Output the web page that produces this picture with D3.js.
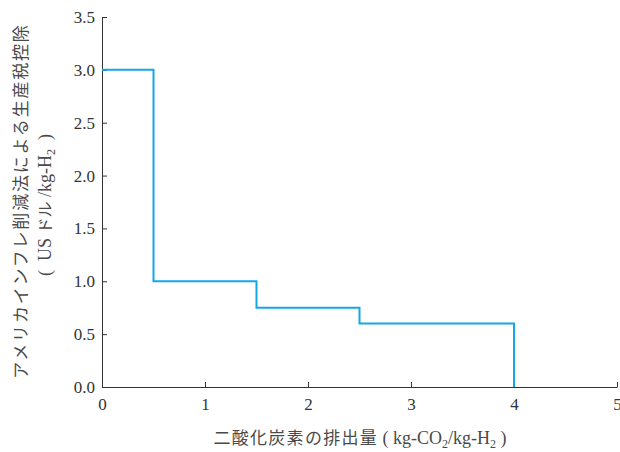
<!DOCTYPE html>
<html>
<head>
<meta charset="utf-8">
<script src="https://cdn.jsdelivr.net/npm/d3@7"></script>
<style>
  body { margin: 0; background: #fff; }
  svg text { fill: #333; }
</style>
</head>
<body>
<svg width="620" height="452"></svg>
<script>
// emission thresholds (kg-CO2/kg-H2) and tax credit (USD/kg-H2)
var emission = [0, 0.5, 1.5, 2.5, 4];
var credit = [3.0, 1.0, 0.75, 0.6, 0];
var xTicks = [0, 1, 2, 3, 4, 5];
var yTicks = [0, 0.5, 1, 1.5, 2, 2.5, 3, 3.5];

var svg = d3.select("svg"),
    plotLeft = 102, plotRight = 617, plotTop = 17, plotBottom = 387;

var x = d3.scaleLinear().domain([0, 5]).range([plotLeft, plotRight]);
var y = d3.scaleLinear().domain([0, 3.5]).range([plotBottom, plotTop]);

var serif = "'Liberation Serif', 'Times New Roman', serif";
var jp = "'Noto Sans CJK JP'";

// x axis, ticks inward
var gx = svg.append("g").attr("transform", "translate(0," + plotBottom + ")")
  .call(d3.axisBottom(x).tickValues(xTicks).tickSizeInner(-5).tickSizeOuter(0).tickPadding(11).tickFormat(d3.format("d")));
gx.selectAll("text").style("font-family", serif).style("font-size", "17px");

var gy = svg.append("g").attr("transform", "translate(" + plotLeft + ",0)")
  .call(d3.axisLeft(y).tickValues(yTicks).tickSizeInner(-5).tickSizeOuter(0).tickPadding(7).tickFormat(d3.format(".1f")));
gy.selectAll("text").style("font-family", serif).style("font-size", "17px");

svg.selectAll(".domain, .tick line").attr("stroke", "#333");

var data = emission.map(function (e, i) { return [e, credit[i]]; });
var line = d3.line().x(function (d) { return x(d[0]); }).y(function (d) { return y(d[1]); }).curve(d3.curveStepAfter);

svg.append("path")
  .datum(data)
  .attr("d", line)
  .attr("fill", "none")
  .attr("stroke", "#12a8e6")
  .attr("stroke-width", 2);

// centre a mixed-font text by measuring it
function centre(t, cx) {
  var w = t.node().getBBox().width;
  t.attr("x", cx - w / 2);
}

// x title
var xt = svg.append("text")
  .attr("y", 444)
  .style("font-size", "18px")
  .style("fill", "#4a4a4a");
xt.append("tspan").style("font-family", jp).style("font-size", "17px").style("letter-spacing", "1.3px").text("二酸化炭素の排出量");
xt.append("tspan").style("font-family", serif).text(" ( kg-CO");
xt.append("tspan").style("font-family", serif).style("font-size", "12px").attr("baseline-shift", "-4").text("2");
xt.append("tspan").style("font-family", serif).text("/kg-H");
xt.append("tspan").style("font-family", serif).style("font-size", "12px").attr("baseline-shift", "-4").text("2");
xt.append("tspan").style("font-family", serif).text(" )");
centre(xt, 360);

// y title, two lines
var yt = svg.append("g").attr("transform", "translate(0,201) rotate(-90)");
var y1 = yt.append("text")
  .attr("y", 27)
  .style("font-family", jp)
  .style("font-size", "17px")
  .style("letter-spacing", "1.8px")
  .style("fill", "#4a4a4a")
  .text("アメリカインフレ削減法による生産税控除");
centre(y1, 0);
var y2 = yt.append("text")
  .attr("y", 51)
  .style("font-size", "18px")
  .style("fill", "#4a4a4a");
y2.append("tspan").style("font-family", serif).text("(\u2002US ");
y2.append("tspan").style("font-family", jp).style("font-size", "16px").text("ドル");
y2.append("tspan").style("font-family", serif).text(" /kg-H");
y2.append("tspan").style("font-family", serif).style("font-size", "12px").attr("baseline-shift", "-4").text("2");
y2.append("tspan").style("font-family", serif).text("\u2002)");
centre(y2, -4);
</script>
</body>
</html>
